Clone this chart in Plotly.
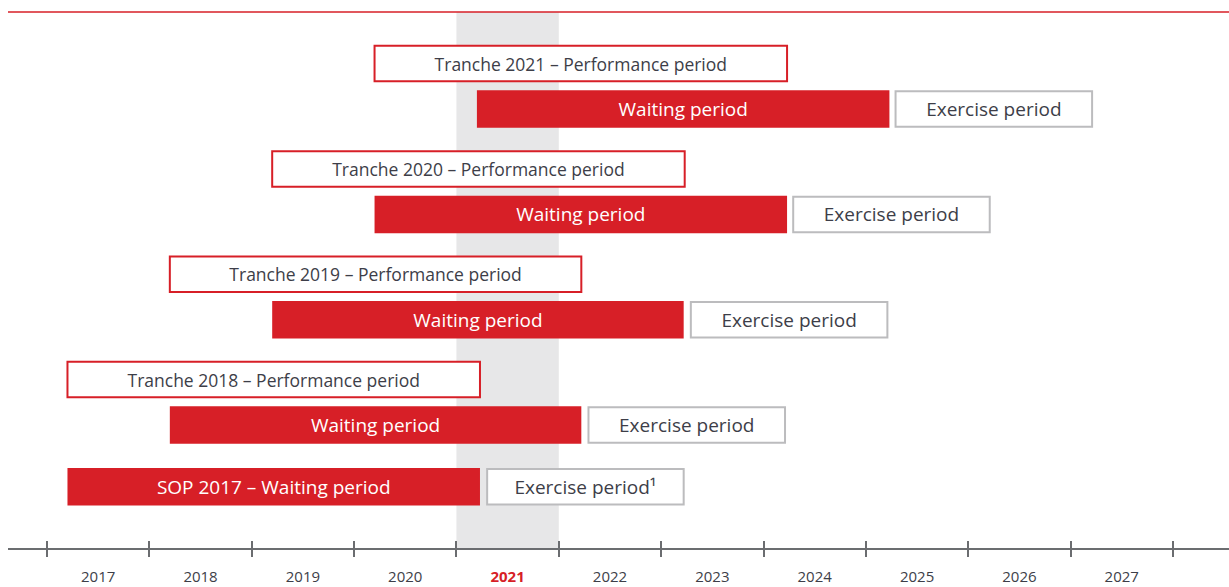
import plotly.graph_objects as go

# ---------------- data ----------------
tranches = ["Tranche 2018", "Tranche 2019", "Tranche 2020", "Tranche 2021"]
perf_start = [2017.20, 2018.20, 2019.20, 2020.20]
perf_end = [2021.23, 2022.22, 2023.23, 2024.23]
wait_start = [2018.20, 2019.20, 2020.20, 2021.20]
wait_end = [2022.22, 2023.22, 2024.23, 2025.23]
ex_start = [2022.29, 2023.29, 2024.29, 2025.29]
ex_end = [2024.21, 2025.21, 2026.21, 2027.21]

sop_label = "SOP 2017"
sop_wait = [2017.20, 2021.23]
sop_ex = [2021.30, 2023.22]

years = [2017, 2018, 2019, 2020, 2021, 2022, 2023, 2024, 2025, 2026, 2027]
highlight_year = 2021

# ---------------- style / layout ----------------
RED = "#d71f27"
DARK = "#3d3e48"
GRAY_LINE = "#bcbcbe"
AXIS = "#6b6d70"
BAND = "#e7e7e8"
FONT = "Open Sans"

W, H = 1229, 587
M_L, M_R, M_T, M_B = 8, 0, 12, 587 - 548
PX_PER_YEAR = 102.36
X0 = years[0] - (47 - M_L) / PX_PER_YEAR
X1 = X0 + (W - M_L - M_R) / PX_PER_YEAR

# vertical layout (plot units = page pixels from top)
Y_BOTTOM, Y_TOP = 548, 12
BASE_WAIT_Y = 425
GROUP_STEP = 105.3
PERF_OFFSET = 45.5
SOP_Y = 486.7
BAR_H = 37.5
BOX_H = 35.5

wait_y = [BASE_WAIT_Y - i * GROUP_STEP for i in range(len(tranches))]
perf_y = [y - PERF_OFFSET for y in wait_y]

fig = go.Figure()

common = dict(orientation="h", textposition="inside", insidetextanchor="middle",
              textangle=0, constraintext="none", hoverinfo="skip", showlegend=False,
              cliponaxis=False)

# performance periods (red outlined boxes)
fig.add_trace(go.Bar(
    y=perf_y, base=perf_start, x=[e - s for s, e in zip(perf_start, perf_end)],
    width=BOX_H,
    marker=dict(color="white", line=dict(color=RED, width=2)),
    text=[f"{t} – Performance period" for t in tranches],
    insidetextfont=dict(family=FONT, size=17.5, color=DARK),
    **common))

# waiting periods (red filled)
fig.add_trace(go.Bar(
    y=wait_y + [SOP_Y], base=wait_start + [sop_wait[0]],
    x=[e - s for s, e in zip(wait_start, wait_end)] + [sop_wait[1] - sop_wait[0]],
    width=BAR_H,
    marker=dict(color=RED, line=dict(width=0)),
    text=["Waiting period"] * len(tranches) + [f"{sop_label} – Waiting period"],
    insidetextfont=dict(family=FONT, size=19, color="white"),
    **common))

# exercise periods (gray outlined boxes)
fig.add_trace(go.Bar(
    y=wait_y + [SOP_Y], base=ex_start + [sop_ex[0]],
    x=[e - s for s, e in zip(ex_start, ex_end)] + [sop_ex[1] - sop_ex[0]],
    width=BOX_H,
    marker=dict(color="white", line=dict(color=GRAY_LINE, width=2)),
    text=["Exercise period"] * len(tranches) + ["Exercise period¹"],
    insidetextfont=dict(family=FONT, size=19, color=DARK),
    xaxis="x2",
    **common))

tick_text = [f"<b><span style='color:{RED}'>{y}</span></b>" if y == highlight_year else str(y)
             for y in years]
boundaries = years + [years[-1] + 1]

fig.update_layout(
    template="none",
    width=W, height=H,
    margin=dict(l=M_L, r=M_R, t=M_T, b=M_B, pad=0),
    paper_bgcolor="white", plot_bgcolor="white",
    barmode="overlay",
    font=dict(family=FONT, color=DARK),
    xaxis=dict(range=[X0, X1], showgrid=False, zeroline=False, automargin=False,
               tickmode="array", tickvals=[y + 0.5 for y in years], ticktext=tick_text,
               ticks="outside", ticklen=14, tickcolor="rgba(0,0,0,0)",
               tickfont=dict(family=FONT, size=15, color=DARK),
               showline=True, linecolor=AXIS, linewidth=2,
               minor=dict(tickmode="array", tickvals=boundaries, ticks="outside",
                          ticklen=7, tickwidth=1.5, tickcolor=AXIS)),
    xaxis2=dict(overlaying="x", matches="x", anchor="y", side="bottom",
                automargin=False,
                showgrid=False, zeroline=False, showticklabels=False,
                tickmode="array", tickvals=boundaries,
                ticks="inside", ticklen=7, tickwidth=1.5, tickcolor=AXIS,
                showline=False),
    yaxis=dict(range=[Y_BOTTOM, Y_TOP], showgrid=False, zeroline=False,
               automargin=False, showticklabels=False, ticks=""),
    shapes=[
        dict(type="rect", xref="x", yref="paper", x0=highlight_year, x1=highlight_year + 1,
             y0=0, y1=1, fillcolor=BAND, line=dict(width=0), layer="below"),
        dict(type="line", xref="paper", yref="paper", x0=0, x1=1, y0=1, y1=1,
             line=dict(color=RED, width=1.5)),
    ],
)

fig.write_html(
    "out.html",
    config={"displayModeBar": False},
    post_script="document.body.style.margin='0';document.body.style.overflow='hidden';",
)
